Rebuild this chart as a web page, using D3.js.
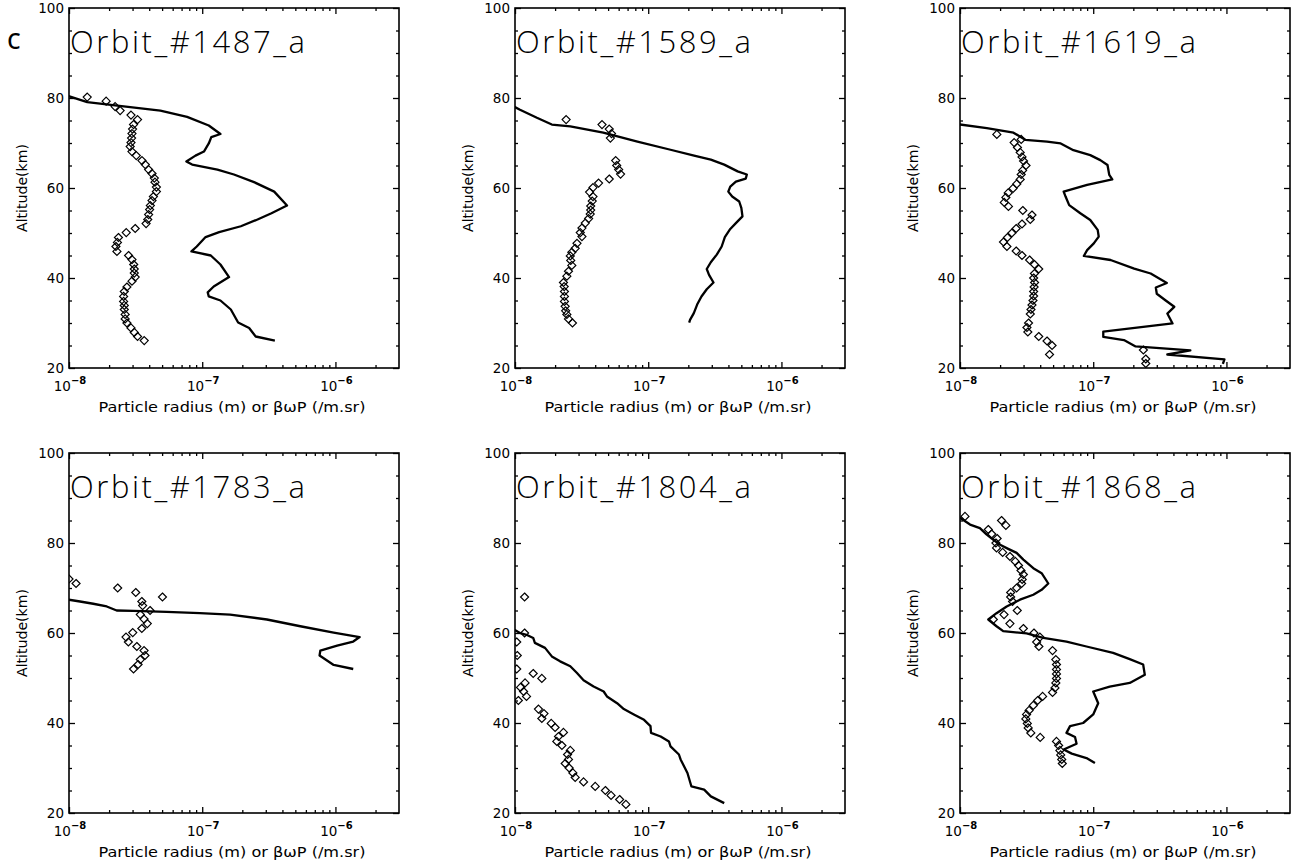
<!DOCTYPE html>
<html>
<head>
<meta charset="utf-8">
<script src="https://cdn.jsdelivr.net/npm/d3@7"></script>
<style>
  body { margin: 0; background: #fff; }
  svg { display: block; }
</style>
</head>
<body>
<svg id="chart" width="1294" height="861"></svg>
<script>
/* Six altitude profiles: line = beta*omega*P, diamonds = particle radius.
   Each pair is [value, altitude in km]. */
const orbitNames = ['Orbit_#1487_a', 'Orbit_#1589_a', 'Orbit_#1619_a',
                    'Orbit_#1783_a', 'Orbit_#1804_a', 'Orbit_#1868_a'];
const xTickMajor = [1e-8, 1e-7, 1e-6];
const xTickExponents = ['8', '7', '6'];
const yTickMajor = [20, 40, 60, 80, 100];

const betaWP_1487 = [[0.95e-8,80.6],[1.37e-8,79.1],[4.85e-8,77.2],[7.7e-8,75.8],[1.12e-7,73.9],[1.37e-7,72.0],
  [1.17e-7,71.3],[1.12e-7,69.9],[1.03e-7,68.1],[8.9e-8,67.2],[7.6e-8,65.9],[8.4e-8,65.2],[1.30e-7,64.1],
  [1.73e-7,63.0],[2.45e-7,61.3],[3.47e-7,59.2],[4.33e-7,56.1],[3.31e-7,54.4],[2.60e-7,53.0],[1.95e-7,51.5],
  [1.34e-7,50.2],[1.06e-7,49.1],[9.1e-8,47.0],[8.3e-8,45.9],[1.16e-7,45.0],[1.37e-7,43.0],[1.59e-7,40.2],
  [1.22e-7,38.1],[1.10e-7,36.8],[1.12e-7,35.9],[1.37e-7,35.0],[1.64e-7,33.0],[1.86e-7,30.1],[2.25e-7,28.9],
  [2.52e-7,27.0],[3.51e-7,26.1]];
const radius_1487 = [[1.37e-8,80.2],[1.9e-8,79.3],[2.22e-8,78.1],[2.42e-8,77.2],[2.92e-8,76.2],[3.27e-8,75.2],
  [3.05e-8,74.1],[3.0e-8,73.1],[2.97e-8,72.1],[2.95e-8,71.1],[2.92e-8,70.1],[2.88e-8,69.2],[2.97e-8,68.1],
  [3.2e-8,67.2],[3.53e-8,66.1],[3.74e-8,65.2],[3.96e-8,64.1],[4.2e-8,63.2],[4.37e-8,62.2],[4.42e-8,61.3],
  [4.53e-8,60.2],[4.53e-8,59.2],[4.3e-8,58.1],[4.2e-8,57.2],[4.08e-8,56.1],[4.03e-8,55.2],[3.96e-8,54.1],
  [3.9e-8,53.0],[3.79e-8,52.1],[3.14e-8,51.0],[2.69e-8,50.1],[2.35e-8,49.0],[2.31e-8,47.9],[2.25e-8,47.0],
  [2.29e-8,45.9],[2.8e-8,45.0],[2.97e-8,44.1],[3.06e-8,43.0],[3.09e-8,42.0],[3.09e-8,41.1],[3.14e-8,40.2],
  [2.97e-8,39.3],[2.72e-8,38.0],[2.6e-8,37.0],[2.57e-8,35.9],[2.57e-8,34.8],[2.6e-8,33.9],[2.6e-8,33.0],
  [2.64e-8,31.9],[2.64e-8,30.9],[2.72e-8,30.0],[2.92e-8,28.9],[3.09e-8,27.9],[3.27e-8,27.0],[3.67e-8,26.1]];

const betaWP_1589 = [[0.95e-8,78.3],[1.09e-8,77.4],[1.46e-8,75.6],[1.89e-8,74.1],[2.6e-8,73.7],[4.6e-8,72.3],
  [8.3e-8,70.3],[1.47e-7,68.5],[2.21e-7,67.2],[2.95e-7,66.3],[3.72e-7,65.2],[4.69e-7,63.7],[5.5e-7,63.0],
  [5.4e-7,62.1],[4.55e-7,61.4],[4.13e-7,60.3],[3.99e-7,59.2],[4.27e-7,58.1],[4.82e-7,57.0],[5.0e-7,55.6],
  [5.1e-7,53.7],[4.55e-7,52.2],[4.13e-7,50.9],[3.76e-7,49.1],[3.56e-7,47.0],[3.27e-7,45.2],[2.95e-7,43.5],
  [2.75e-7,42.0],[2.86e-7,40.7],[3.09e-7,39.0],[2.75e-7,37.5],[2.51e-7,35.9],[2.33e-7,34.1],[2.2e-7,32.2],
  [2.06e-7,30.7],[2.03e-7,30.1]];
const radius_1589 = [[2.42e-8,75.2],[4.5e-8,74.1],[5.1e-8,73.1],[5.3e-8,72.1],[5.2e-8,71.1],[5.7e-8,66.1],
  [5.8e-8,65.0],[6.0e-8,64.1],[6.2e-8,63.1],[5.1e-8,62.0],[4.24e-8,61.1],[3.85e-8,60.1],[3.63e-8,59.1],
  [3.85e-8,58.1],[3.8e-8,57.1],[3.7e-8,56.0],[3.7e-8,55.1],[3.67e-8,54.2],[3.57e-8,53.2],[3.37e-8,52.2],
  [3.18e-8,51.1],[3.09e-8,50.1],[3.18e-8,49.2],[2.92e-8,47.7],[2.83e-8,46.6],[2.67e-8,45.7],[2.6e-8,44.9],
  [2.62e-8,43.9],[2.67e-8,42.8],[2.52e-8,41.5],[2.45e-8,40.4],[2.31e-8,39.0],[2.34e-8,38.1],[2.35e-8,37.0],
  [2.35e-8,35.9],[2.35e-8,34.8],[2.38e-8,33.7],[2.4e-8,32.7],[2.45e-8,31.9],[2.52e-8,30.9],[2.7e-8,30.0]];

const betaWP_1619 = [[0.95e-8,74.2],[1.59e-8,73.3],[2.52e-8,72.3],[3.09e-8,70.7],[4.5e-8,70.3],[5.7e-8,69.9],
  [7.1e-8,68.4],[9.5e-8,67.3],[1.13e-7,66.2],[1.28e-7,65.1],[1.32e-7,62.9],[1.39e-7,61.9],[9.0e-8,60.7],
  [6.0e-8,59.2],[6.2e-8,58.1],[6.6e-8,56.2],[8.0e-8,54.4],[9.5e-8,52.9],[1.08e-7,50.7],[1.1e-7,49.2],
  [1.01e-7,47.7],[9.0e-8,46.2],[8.5e-8,44.9],[1.35e-7,44.0],[2.03e-7,42.1],[2.7e-7,41.0],[3.57e-7,38.9],
  [2.95e-7,37.9],[3.0e-7,36.5],[3.5e-7,35.0],[4.06e-7,33.6],[3.6e-7,32.1],[3.94e-7,29.9],[1.19e-7,28.1],
  [1.19e-7,26.9],[1.70e-7,26.2],[2.08e-7,24.8],[5.36e-7,23.9],[3.6e-7,23.0],[9.66e-7,21.9],[9.4e-7,20.9]];
const radius_1619 = [[1.89e-8,71.9],[2.88e-8,70.8],[2.55e-8,70.1],[2.7e-8,69.0],[2.83e-8,67.9],[2.92e-8,66.9],
  [3.0e-8,66.0],[3.13e-8,65.0],[2.95e-8,63.9],[2.88e-8,63.0],[2.83e-8,61.9],[2.67e-8,60.9],[2.5e-8,59.9],
  [2.3e-8,58.9],[2.21e-8,57.9],[2.15e-8,56.8],[2.31e-8,55.9],[2.96e-8,55.0],[3.47e-8,54.0],[3.37e-8,53.0],
  [2.92e-8,52.0],[2.64e-8,51.0],[2.45e-8,50.0],[2.27e-8,49.0],[2.12e-8,48.0],[2.25e-8,47.0],[2.64e-8,46.0],
  [2.92e-8,45.0],[3.33e-8,44.0],[3.62e-8,43.0],[3.9e-8,42.0],[3.62e-8,41.0],[3.57e-8,40.0],[3.63e-8,39.0],
  [3.6e-8,38.0],[3.57e-8,37.0],[3.57e-8,36.0],[3.53e-8,35.0],[3.47e-8,34.0],[3.41e-8,33.0],[3.37e-8,32.0],
  [3.27e-8,30.0],[3.18e-8,29.0],[3.23e-8,28.0],[3.9e-8,27.0],[4.5e-8,26.0],[4.91e-8,25.0],[4.7e-8,23.0],
  [2.38e-7,24.0],[2.48e-7,22.0],[2.48e-7,21.0]];

const betaWP_1783 = [[0.95e-8,67.5],[1.21e-8,67.0],[1.52e-8,66.5],[1.92e-8,65.9],[2.28e-8,65.0],[3.05e-8,64.9],
  [5.4e-8,64.7],[9.6e-8,64.4],[1.62e-7,64.1],[3.06e-7,63.0],[5.45e-7,61.5],[9.7e-7,60.1],[1.52e-6,59.1],
  [1.36e-6,58.1],[1.03e-6,57.2],[7.7e-7,56.1],[7.6e-7,55.0],[9.7e-7,52.9],[1.36e-6,52.0]];
const radius_1783 = [[1.0e-8,72.0],[1.13e-8,71.0],[2.32e-8,70.0],[3.17e-8,69.0],[5.03e-8,68.0],[3.52e-8,67.0],
  [3.57e-8,66.1],[4.06e-8,65.0],[3.43e-8,64.1],[3.66e-8,63.1],[3.87e-8,62.1],[3.52e-8,61.0],[3.01e-8,60.1],
  [2.68e-8,59.1],[2.79e-8,58.0],[3.23e-8,57.0],[3.66e-8,56.1],[3.72e-8,55.0],[3.43e-8,54.1],[3.3e-8,53.0],
  [3.05e-8,52.0]];

const betaWP_1804 = [[0.95e-8,61.0],[1.09e-8,60.0],[1.22e-8,59.6],[1.37e-8,58.9],[1.41e-8,57.8],[1.68e-8,56.7],
  [1.89e-8,54.8],[2.18e-8,53.7],[2.6e-8,52.6],[2.92e-8,51.1],[3.27e-8,49.5],[3.89e-8,48.1],[4.63e-8,47.0],
  [4.9e-8,45.9],[5.84e-8,44.4],[6.56e-8,43.1],[7.8e-8,41.9],[9.3e-8,40.7],[1.04e-7,39.3],[1.05e-7,37.8],
  [1.24e-7,37.0],[1.43e-7,35.9],[1.47e-7,34.8],[1.70e-7,33.0],[1.75e-7,31.9],[1.97e-7,28.9],[2.11e-7,25.9],
  [2.63e-7,25.2],[2.95e-7,23.7],[3.72e-7,22.2]];
const radius_1804 = [[1.18e-8,68.0],[1.18e-8,60.0],[1.03e-8,58.0],[1.04e-8,55.0],[1.03e-8,52.0],[1.37e-8,51.0],
  [1.59e-8,49.9],[1.19e-8,48.9],[1.1e-8,47.9],[1.16e-8,47.0],[1.22e-8,45.9],[1.06e-8,45.0],[1.5e-8,43.1],
  [1.65e-8,42.1],[1.59e-8,41.0],[1.87e-8,39.9],[2.0e-8,39.0],[2.31e-8,37.9],[2.12e-8,37.0],[2.06e-8,35.9],
  [2.25e-8,35.0],[2.6e-8,33.9],[2.48e-8,33.0],[2.52e-8,31.9],[2.38e-8,31.0],[2.55e-8,30.0],[2.72e-8,28.9],
  [2.83e-8,27.9],[3.27e-8,26.9],[4.0e-8,25.9],[4.77e-8,25.0],[5.26e-8,23.9],[6.1e-8,23.0],[6.8e-8,21.9]];

const betaWP_1868 = [[1.0e-8,85.6],[1.19e-8,84.1],[1.41e-8,83.3],[1.58e-8,81.9],[1.78e-8,80.7],[2.0e-8,79.6],
  [2.3e-8,78.7],[2.66e-8,77.8],[2.99e-8,76.3],[3.55e-8,74.4],[4.1e-8,73.3],[4.6e-8,71.0],[4.1e-8,69.6],
  [3.55e-8,68.5],[2.82e-8,67.4],[2.24e-8,65.9],[1.88e-8,64.4],[1.63e-8,63.0],[1.88e-8,61.5],[2.11e-8,60.4],
  [3.16e-8,59.9],[4.22e-8,58.9],[6.3e-8,58.1],[8.9e-8,57.0],[1.41e-7,55.6],[1.88e-7,54.2],[2.37e-7,53.0],
  [2.44e-7,50.7],[1.88e-7,48.9],[1.33e-7,48.1],[1.0e-7,47.0],[1.09e-7,44.4],[1.0e-7,41.9],[8.4e-8,40.0],
  [6.7e-8,39.3],[6.3e-8,37.8],[7.3e-8,36.9],[7.5e-8,35.4],[6.0e-8,34.1],[6.9e-8,33.2],[8.9e-8,32.2],
  [1.03e-7,31.1]];
const radius_1868 = [[1.09e-8,85.9],[2.05e-8,85.0],[2.21e-8,83.9],[1.63e-8,83.0],[1.73e-8,82.0],[1.9e-8,81.0],
  [1.86e-8,80.0],[1.88e-8,78.9],[2.09e-8,77.9],[2.37e-8,77.0],[2.6e-8,75.9],[2.75e-8,75.0],[2.87e-8,73.9],
  [2.99e-8,73.0],[2.93e-8,71.9],[2.9e-8,71.0],[2.66e-8,70.0],[2.4e-8,69.0],[2.4e-8,68.0],[2.48e-8,67.0],
  [2.69e-8,65.0],[2.14e-8,64.1],[1.78e-8,63.0],[2.37e-8,62.1],[2.99e-8,61.0],[3.59e-8,60.0],[3.98e-8,59.1],
  [3.76e-8,58.0],[3.91e-8,57.0],[4.95e-8,56.1],[5.24e-8,54.1],[5.3e-8,53.0],[5.3e-8,51.9],[5.3e-8,50.9],
  [5.3e-8,49.9],[5.24e-8,48.9],[5.16e-8,47.8],[4.95e-8,46.8],[4.17e-8,45.9],[3.83e-8,45.0],[3.55e-8,43.9],
  [3.3e-8,42.8],[3.16e-8,41.9],[3.12e-8,40.9],[3.2e-8,39.9],[3.25e-8,38.9],[3.4e-8,37.8],[4.0e-8,36.8],
  [5.3e-8,35.9],[5.5e-8,35.0],[5.62e-8,33.9],[5.7e-8,32.9],[5.8e-8,31.9],[5.86e-8,31.0]];

const lineSeries = [betaWP_1487, betaWP_1589, betaWP_1619, betaWP_1783, betaWP_1804, betaWP_1868];
const diamondSeries = [radius_1487, radius_1589, radius_1619, radius_1783, radius_1804, radius_1868];

const COL_X = [69, 515, 960];
const ROW_Y = [8, 453];
const PW = 330, PH = 360;
const LABEL_FONT = '"DejaVu Sans", Verdana, sans-serif';

const svg = d3.select('#chart');

const x = d3.scaleLog().domain([1e-8, 3e-6]).range([0, PW]);
const y = d3.scaleLinear().domain([20, 100]).range([PH, 0]);

const xMinor = [];
for (let d = 1e-8; d < 3e-6; d *= 10) {
    for (let k = 2; k <= 9; k++) if (k * d < 3e-6) xMinor.push(k * d);
}
const yMinor = d3.range(25, 100, 5).filter(v => v % 20 !== 0);

function drawPanel(i) {
    const g = svg.append('g')
        .attr('transform', `translate(${COL_X[i % 3]},${ROW_Y[Math.floor(i / 3)]})`);

    g.append('clipPath').attr('id', 'clip' + i)
        .append('rect').attr('width', PW).attr('height', PH);

    // inward ticks on all four sides, majors and minors
    const sides = [
        [d3.axisBottom(x), `translate(0,${PH})`, xTickMajor, xMinor],
        [d3.axisTop(x), 'translate(0,0)', xTickMajor, xMinor],
        [d3.axisLeft(y), 'translate(0,0)', yTickMajor, yMinor],
        [d3.axisRight(y), `translate(${PW},0)`, yTickMajor, yMinor]
    ];
    for (const [axis, tr, major, minor] of sides) {
        g.append('g').attr('transform', tr)
            .call(axis.tickValues(major).tickSize(-6).tickSizeOuter(0).tickFormat(''))
            .call(s => s.select('.domain').remove());
        g.append('g').attr('transform', tr)
            .call(axis.tickValues(minor).tickSize(-3).tickSizeOuter(0).tickFormat(''))
            .call(s => s.select('.domain').remove());
    }
    g.selectAll('.tick line').attr('stroke', '#000').attr('stroke-width', 1.3);

    g.append('rect')
        .attr('width', PW).attr('height', PH)
        .attr('fill', 'none').attr('stroke', '#000').attr('stroke-width', 1.6);

    // y tick labels
    g.selectAll('.ylab').data(yTickMajor).join('text')
        .attr('x', -5).attr('y', d => y(d)).attr('dy', '0.36em')
        .attr('text-anchor', 'end')
        .attr('font-family', LABEL_FONT)
        .attr('font-size', 13.5)
        .text(d => d);

    // x tick labels 10^n
    const xl = g.selectAll('.xlab').data(xTickMajor).join('text')
        .attr('x', d => x(d) + 1).attr('y', PH + 23)
        .attr('text-anchor', 'middle')
        .attr('font-family', LABEL_FONT)
        .attr('font-size', 13.5);
    xl.append('tspan').text('10');
    xl.append('tspan').attr('dy', -7).attr('font-size', 10).attr('font-weight', 'bold')
        .text((d, j) => '\u2212' + xTickExponents[j]);

    g.append('text')
        .attr('x', PW / 2 - 2).attr('y', PH + 44)
        .attr('text-anchor', 'middle')
        .attr('font-family', LABEL_FONT)
        .attr('font-size', 14)
        .attr('textLength', 267).attr('lengthAdjust', 'spacingAndGlyphs')
        .text('Particle radius (m) or \u03B2\u03C9P (/m.sr)');

    g.append('text')
        .attr('transform', `translate(-42,${PH / 2}) rotate(-90)`)
        .attr('text-anchor', 'middle')
        .attr('font-family', LABEL_FONT)
        .attr('font-size', 13.5)
        .attr('textLength', 88).attr('lengthAdjust', 'spacingAndGlyphs')
        .text('Altitude(km)');

    // data
    const data = g.append('g').attr('clip-path', `url(#clip${i})`);
    data.append('path')
        .datum(lineSeries[i])
        .attr('fill', 'none').attr('stroke', '#000').attr('stroke-width', 2.3)
        .attr('stroke-linejoin', 'round')
        .attr('d', d3.line().x(d => x(d[0])).y(d => y(d[1])));
    data.selectAll('.dia').data(diamondSeries[i]).join('path')
        .attr('transform', d => `translate(${x(d[0])},${y(d[1])})`)
        .attr('d', 'M0,-4L4,0L0,4L-4,0Z')
        .attr('fill', 'none').attr('stroke', '#000').attr('stroke-width', 1.2);

    g.append('text')
        .attr('x', 1).attr('y', 45)
        .attr('font-family', '"Open Sans", "DejaVu Sans", sans-serif')
        .attr('font-weight', 300)
        .attr('font-size', 31)
        .attr('textLength', 235).attr('lengthAdjust', 'spacing')
        .text(orbitNames[i]);
}

for (let i = 0; i < 6; i++) drawPanel(i);

svg.append('text')
    .attr('x', 14).attr('y', 49)
    .attr('text-anchor', 'middle')
    .attr('font-family', '"Open Sans", "Noto Sans", sans-serif')
    .attr('font-weight', 600)
    .attr('font-size', 21)
    .text('C');
</script>
</body>
</html>
